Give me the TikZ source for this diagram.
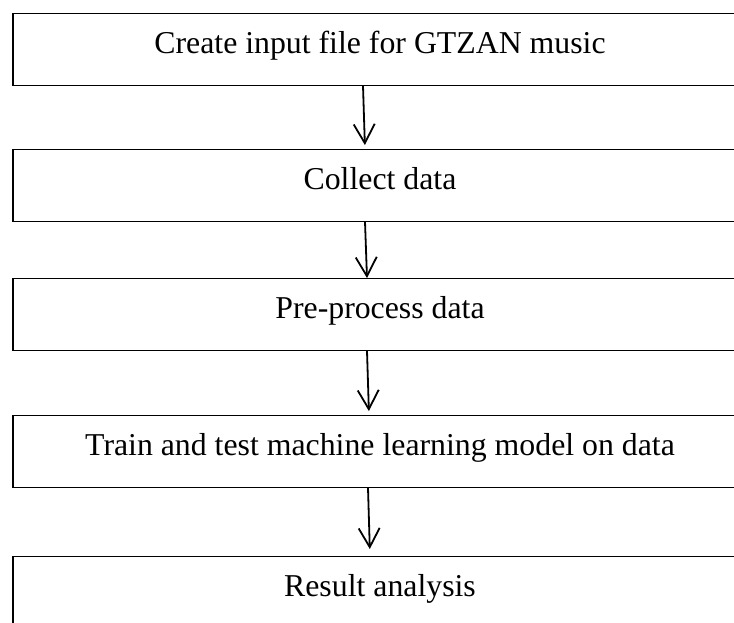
\documentclass[tikz,border=0pt]{standalone}
\usepackage{fontspec}
\setmainfont{Liberation Serif}
\usetikzlibrary{arrows.meta}
\begin{document}
\begin{tikzpicture}[x=1pt,y=1pt,
  stepbox/.style={draw=black, line width=1.3pt, inner sep=0pt, minimum width=734pt,
    text height=40pt, text depth=31.5pt, anchor=north,
    font=\fontsize{31.8}{38}\selectfont},
  flow/.style={line width=1.8pt, -{Straight Barb[length=19pt,width=21pt]}}]
\useasboundingbox (0,0) rectangle (734,-622);
\clip (0,0) rectangle (734,-622);
\fill[white] (0,0) rectangle (734,-622);
\node[stepbox] (b1) at (380,-13) {Create input file for GTZAN music};
\node[stepbox] (b2) at (380,-149) {Collect data};
\node[stepbox] (b3) at (380,-278) {Pre-process data};
\node[stepbox] (b4) at (380,-415) {Train and test machine learning model on data};
\node[stepbox] (b5) at (380,-556) {Result analysis};
\draw[flow, shorten >=4pt] ([xshift=-17pt]b1.south) -- ([xshift=-15pt]b2.north);
\draw[flow] ([xshift=-15pt]b2.south) -- ([xshift=-13pt]b3.north);
\draw[flow, shorten >=4pt] ([xshift=-13pt]b3.south) -- ([xshift=-11pt]b4.north);
\draw[flow, shorten >=7pt] ([xshift=-12pt]b4.south) -- ([xshift=-10pt]b5.north);
\end{tikzpicture}
\end{document}
